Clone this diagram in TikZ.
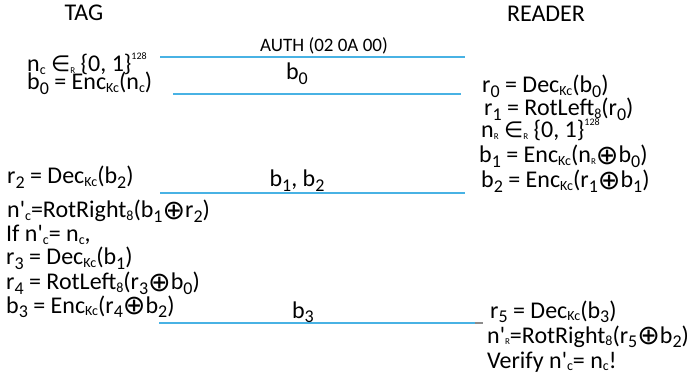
\documentclass[tikz,border=0pt]{standalone}
\usepackage{fontspec}
\setmainfont{Carlito}
\newfontfamily\symfont{DejaVu Sans}
\definecolor{msgblue}{RGB}{72,178,228}
\definecolor{tickgray}{RGB}{140,140,140}
\newcommand\dsb[1]{\raisebox{-0.2em}[0pt][0pt]{\fontsize{18}{18}\selectfont #1}}
\newcommand\ssb[1]{\raisebox{-0.1em}[0pt][0pt]{\fontsize{14}{14}\selectfont #1}}
\newcommand\tsb[1]{\raisebox{-0.08em}[0pt][0pt]{\fontsize{9}{9}\selectfont #1}}
\newcommand\tsp[1]{\raisebox{0.5em}[0pt][0pt]{\fontsize{10}{10}\selectfont #1}}
\newcommand\xo{{\symfont\fontsize{27}{20}\selectfont\raisebox{-0.06em}[0pt][0pt]{⊕}}}
\newcommand\elm{{\symfont\fontsize{22}{20}\selectfont ∈}}
\newcommand\q{\textquotesingle}
\begin{document}
\begin{tikzpicture}[x=1pt,y=-1pt,
  txt/.style={anchor=base west, inner sep=0pt, font=\fontsize{24}{24}\selectfont},
  head/.style={anchor=base, inner sep=0pt, font=\fontsize{24}{24}\selectfont},
  lbl/.style={anchor=base, inner sep=0pt, font=\fontsize{24}{24}\selectfont},
  msg/.style={draw=msgblue, line width=2.6pt}]
\useasboundingbox (0,0) rectangle (689,385);
% headers
\node[head] (tag) at (84,21) {TAG};
\node[head] (reader) at (546,22) {READER};
% tag side
\node[txt] (t1) at (27,72) {n\ssb{c} \elm\tsb{R} \{0, 1\}\tsp{128}};
\node[txt] (t2) at (27,90) {b\dsb{0} = Enc\ssb{Kc}(n\ssb{c})};
\node[txt] (t3) at (7,184) {r\dsb{2} = Dec\ssb{Kc}(b\dsb{2})};
\node[txt] (t4) at (7,218) {n\q\ssb{c}=RotRight\ssb{8}(b\dsb{1}\xo r\dsb{2})};
\node[txt] (t5) at (6,242) {If n\q\ssb{c}= n\ssb{c},};
\node[txt] (t6) at (6,265) {r\dsb{3} = Dec\ssb{Kc}(b\dsb{1})};
\node[txt] (t7) at (6,290) {r\dsb{4} = RotLeft\ssb{8}(r\dsb{3}\xo b\dsb{0})};
\node[txt] (t8) at (6,313) {b\dsb{3} = Enc\ssb{Kc}(r\dsb{4}\xo b\dsb{2})};
% reader side
\node[txt] (r1) at (482,93) {r\dsb{0} = Dec\ssb{Kc}(b\dsb{0})};
\node[txt] (r2) at (484,116) {r\dsb{1} = RotLeft\ssb{8}(r\dsb{0})};
\node[txt] (r3) at (481,138) {n\tsb{R} \elm\tsb{R} \{0, 1\}\tsp{128}};
\node[txt] (r4) at (479,163) {b\dsb{1} = Enc\ssb{Kc}(n\tsb{R}\xo b\dsb{0})};
\node[txt] (r5) at (481,188) {b\dsb{2} = Enc\ssb{Kc}(r\dsb{1}\xo b\dsb{1})};
\node[txt] (r6) at (490,318) {r\dsb{5} = Dec\ssb{Kc}(b\dsb{3})};
\node[txt] (r7) at (487,343) {n\q\tsb{R}=RotRight\ssb{8}(r\dsb{5}\xo b\dsb{2})};
\node[txt] (r8) at (487,368) {Verify n\q\ssb{c}= n\ssb{c}!};
% messages
\coordinate (m1a) at (160,57);  \coordinate (m1b) at (465,57);
\coordinate (m2a) at (173,94);  \coordinate (m2b) at (461,94);
\coordinate (m3a) at (160,193); \coordinate (m3b) at (465,193);
\coordinate (m4a) at (159,323); \coordinate (m4b) at (475,323);
\coordinate (m4c) at (483,323);
\draw[msg] (m1a) -- (m1b);
\draw[msg] (m2a) -- (m2b);
\draw[msg] (m3a) -- (m3b);
\draw[msg] (m4a) -- (m4b);
\draw[draw=tickgray, line width=1.6pt] (m4b) -- (m4c);
\node[lbl, font=\fontsize{19}{19}\selectfont] (l1) at (324,52) {AUTH (02 0A 00)};
\node[lbl] (l2) at (297,80) {b\dsb{0}};
\node[lbl] (l3) at (297,187) {b\dsb{1}, b\dsb{2}};
\node[lbl] (l4) at (303,318) {b\dsb{3}};
\end{tikzpicture}
\end{document}
